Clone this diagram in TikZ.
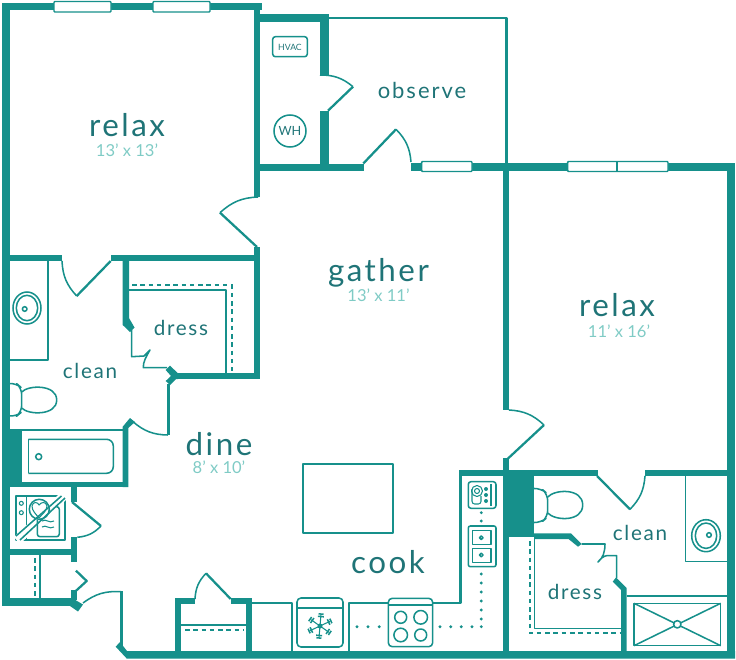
\documentclass[tikz,border=0pt]{standalone}
\usepackage{fontspec}
\setmainfont{Lato}
\definecolor{wallc}{HTML}{16908B}
\definecolor{labelc}{HTML}{1F7477}
\definecolor{dimc}{HTML}{7FCBC5}
\newcommand{\lbl}[2]{\fontsize{#1}{#1}\selectfont\addfontfeature{LetterSpace=#2}}
\tikzset{
  wallfill/.style={fill=wallc,draw=none},
  thinw/.style={draw=wallc,line width=1.7pt,line join=round},
  finew/.style={draw=wallc,line width=1.15pt,line join=round},
  hair/.style={draw=wallc,line width=0.8pt,line join=round},
  dashw/.style={draw=wallc,line width=1.7pt,dash pattern=on 3.4pt off 2.8pt},
  dotw/.style={fill=wallc,draw=none},
  win/.style={fill=white,draw=wallc,line width=1.1pt,rounded corners=0.6pt},
  bigt/.style={text=labelc,inner sep=0pt,anchor=center,font=\lbl{23.5}{8}},
  obst/.style={text=labelc,inner sep=0pt,anchor=center,font=\lbl{16.5}{9}},
  midt/.style={text=labelc,inner sep=0pt,anchor=center,font=\lbl{15.5}{8}},
  dimt/.style={text=dimc,inner sep=0pt,anchor=center,font=\lbl{12.4}{0}},
}
\begin{document}
\begin{tikzpicture}[x=0.75pt,y=-0.75pt]
\useasboundingbox (0,0) rectangle (736,660);
% ---------- heavy walls
\fill[wallfill] (2,3) rectangle (262,10.5);
\fill[wallfill] (2,3) rectangle (9.5,606);
\fill[wallfill] (254,3) rectangle (260,197);
\fill[wallfill] (254,14) rectangle (329,22);
\fill[wallfill] (320,14) rectangle (328.5,75);
\fill[wallfill] (320,111) rectangle (328.5,170);
\fill[wallfill] (254,164) rectangle (363.5,170.5);
\fill[wallfill] (411,162.5) rectangle (735,171);
\fill[wallfill] (727,162.5) rectangle (735,658);
\fill[wallfill] (503,170) rectangle (509,410);
\fill[wallfill] (503,458) rectangle (509,652);
\fill[wallfill] (503,470) rectangle (534,537);
\fill[wallfill] (459.3,470) rectangle (503,476);
\fill[wallfill] (534,470) rectangle (597.7,476);
\fill[wallfill] (645,470) rectangle (727,476);
% left block
\fill[wallfill] (10,255) rectangle (62,261);
\fill[wallfill] (110.7,255) rectangle (260,261);
\fill[wallfill] (254,247) rectangle (260,379);
\fill[wallfill] (176,373.3) rectangle (260,379);
\fill[wallfill] (122.7,261) -- (129,261) -- (129,318) -- (134.5,327.5) -- (130,332) -- (122.7,325) -- cycle;
\fill[wallfill] (165.7,370) -- (170,365.7) -- (178,373.3) -- (178,379) -- (176,379) -- (170,385) -- (165.7,381) -- (171,376) -- cycle;
\fill[wallfill] (122.7,426.7) -- (130,418) -- (135,422) -- (128.3,428) -- (128.3,487) -- (122.7,487) -- cycle;
\fill[wallfill] (2,430) rectangle (21.7,487);
\fill[wallfill] (2,481.7) rectangle (128.3,487.3);
\fill[wallfill] (71,487) rectangle (77.3,502);
\fill[wallfill] (71,537) rectangle (77.3,562);
\fill[wallfill] (9.5,549.3) rectangle (77,555);
\fill[wallfill] (2,598) rectangle (72,606);
\fill[wallfill] (71,590) rectangle (77.3,600);
\fill[wallfill] (70,606) -- (72,598) -- (83,604.5) -- (78,611.5) -- cycle;
% bottom wall
\fill[wallfill] (120,591) rectangle (123,650);
\fill[wallfill] (115.7,646.7) -- (120,642) -- (127,651) -- (735,651) -- (735,658.5) -- (126.7,658.5) -- cycle;
% pantry
\fill[wallfill] (175,598.3) rectangle (181,652);
\fill[wallfill] (175,598.3) rectangle (195,604.3);
\fill[wallfill] (230.7,598.3) rectangle (252,604.3);
\fill[wallfill] (246,598.3) rectangle (251.7,652);
% right dress walls
\fill[wallfill] (534,533.3) -- (571,533.3) -- (581.7,544) -- (578,546.7) -- (568.5,539) -- (534,539) -- cycle;
\fill[wallfill] (612.7,581.7) -- (616,577.5) -- (626.7,588) -- (626.7,652) -- (621,652) -- (621,590) -- cycle;
% ---------- thin walls
\draw[thinw] (328,18.3) -- (506.5,18.3) -- (506.5,164);
\draw[thinw] (460.5,476) -- (460.5,603.3) -- (433,603.3);
\draw[thinw] (388,603.3) -- (349,603.3) -- (349,651);
\draw[thinw] (252,603.3) -- (292,603.3) -- (292,651);
% ---------- windows
\draw[win] (54,1.5) rectangle (111,12);
\draw[win] (153,1.5) rectangle (210,12);
\draw[win] (421.7,161.5) rectangle (472,171.5);
\draw[win] (567.7,161.5) rectangle (668,171.5);
\draw[finew] (617,161.5) -- (617,171.5);
% ---------- doors
\draw[thinw] (257,247) -- (220,212.7);
\draw[finew] (220,212.7) to[bend left=20] (258,197);
\draw[thinw] (353,86.7) -- (328,110.7);
\draw[finew] (320,75) to[bend left=20] (353,86.7);
\draw[thinw] (363.3,163.5) -- (396,129.3);
\draw[finew] (396,129.3) to[bend left=20] (411,162);
\draw[thinw] (110.7,261) -- (76.7,296);
\draw[finew] (76.7,296) to[bend left=20] (62,261);
\draw[finew] (133,421.7) to[bend right=20] (168,435);
\draw[thinw] (168.5,435) -- (168.5,384);
\draw[thinw] (72,502) -- (101,526);
\draw[finew] (101,526) to[bend left=20] (77.3,537.3);
\draw[finew] (121,591.7) to[bend right=20] (83,603);
\draw[finew] (195,599) to[bend left=20] (206,573.3);
\draw[thinw] (206,573.3) -- (230.7,599);
\draw[finew] (509,410) to[bend left=20] (544,425);
\draw[thinw] (544,425) -- (508,458.5);
\draw[thinw] (597,476) -- (630,509.3);
\draw[finew] (630,509.3) to[bend right=20] (645,476);
% bifold doors
\draw[finew] (131.7,330) -- (131.7,356.7) -- (144,356) -- (150,350) .. controls (146,357) and (143,362) .. (143.3,367.7) -- (167,367.7);
\draw[thinw] (76,570.7) -- (86.7,581) -- (75,591.7);
\draw[finew] (581.7,544) -- (605,544) .. controls (605,552) and (603,558) .. (598,562) .. controls (601,558) and (604,556) .. (606.7,555.7) -- (616.7,555.7) -- (616.7,578);
% ---------- closets
\draw[finew] (129,290) -- (226,290) -- (226,373.3);
\draw[dashw] (132,285) -- (231.7,285) -- (231.7,371);
\draw[finew] (40,555) -- (40,598);
\draw[dashw] (35.3,558) -- (35.3,597);
\draw[finew] (181,625) -- (246,625);
\draw[dashw] (185,630) -- (243,630);
\draw[finew] (534.3,539) -- (534.3,628.3) -- (621,628.3);
\draw[dashw] (530,541) -- (530,633.3) -- (620,633.3);
% ---------- left bath
\draw[finew] (10,360) -- (48,360) -- (48,261);
\draw[finew] (27,308) ellipse (14 and 16);
\draw[finew] (27,308) ellipse (10.7 and 12.7);
\draw[finew] (24.7,309) circle (2.3);
\draw[finew,rounded corners=5pt] (9.5,383.5) -- (16,383) -- (21.7,388) -- (21.7,412) -- (16,416.7) -- (9.5,416);
\draw[finew] (21.7,392) .. controls (28,385) and (56.7,384) .. (56.7,400) .. controls (56.7,416) and (28,415) .. (21.7,408);
\draw[finew] (10,430) -- (122.7,430);
\draw[finew,rounded corners=5pt] (28.3,439.3) -- (113.3,439.3) -- (113.3,473.3) -- (28.3,473.3);
\draw[finew] (28.3,439.3) -- (28.3,473.3);
\draw[finew] (38.7,456.7) circle (3);
% ---------- washer / dryer
\draw[finew] (16,496) rectangle (65,540);
\draw[finew] (26.7,496) -- (26.7,540);
\fill[white] (63.5,490) -- (70,496) -- (20,544) -- (14,537) -- cycle;
\draw[finew] (16,536) -- (61.5,496);
\draw[finew] (20,540) -- (65,498);
\draw[hair] (21.3,503.3) circle (2);
\draw[hair] (21.3,512.7) circle (2);
\draw[finew] (39.3,509.3) circle (10);
\draw[hair] (32,506) .. controls (33,501) and (38,502) .. (39,505) .. controls (41,502) and (46,501) .. (47,506) .. controls (47,511) and (42,514) .. (39,518) .. controls (36,514) and (32,511) .. (32,506);
\draw[finew,rounded corners=2pt] (37.3,520) -- (37.3,536.7) -- (59.3,536.7) -- (59.3,506.7) -- (55,506.7);
\draw[hair] (42,521) .. controls (46,518) and (49,524) .. (54,521);
\draw[hair] (42,527) .. controls (46,524) and (49,530) .. (54,527);
% ---------- island, appliances
\draw[thinw] (303.3,464) rectangle (392.7,532.7);
\draw[finew,rounded corners=3pt] (297,598) rectangle (343,647);
\draw[finew] (297,608) -- (343,608);
\draw[finew,rounded corners=3pt] (388.3,598.3) rectangle (432.7,646.7);
\draw[finew] (388.3,605) -- (432.7,605);
\draw[finew,fill=white] (400.7,617.3) circle (6);
\draw[finew,fill=white] (420.7,617.3) circle (6.8);
\draw[finew,fill=white] (400.7,635) circle (6.8);
\draw[finew,fill=white] (420.7,635) circle (6);
\fill[wallc] (320,626) circle (2.5);
\foreach \a in {25,85,145,205,265,325}{
  \begin{scope}[shift={(320,626)},rotate=\a]
    \draw[hair] (0,0) -- (11,0);
    \draw[finew] (9.5,-3) -- (9.5,3);
    \draw[finew] (12,-2.5) -- (12,2.5);
  \end{scope}
}
\draw[finew,rounded corners=2pt] (468.3,481.7) rectangle (496,508.3);
\draw[hair] (491,484) -- (491,506);
\draw[hair] (477,491) circle (5.5);
\draw[hair] (477,491) circle (2.5);
\draw[hair,rounded corners=2pt] (472,489) -- (472,504) -- (481,504) -- (481,496);
\fill[wallc] (486,489) circle (2);
\fill[wallc] (486,495) circle (2);
\fill[wallc] (486,501) circle (2);
\draw[finew,rounded corners=1.5pt] (468.3,526) rectangle (496,566.7);
\draw[finew] (472.3,530.7) rectangle (491,544.3);
\draw[finew] (472.3,548.3) rectangle (491,562.7);
\draw[finew] (481.3,537.7) circle (1.8);
\draw[finew] (481.3,555) circle (1.8);
\foreach \p in {(481.3,512.7),(481.3,521),(481.3,574),(481.3,583),(481.3,592),(481.3,601),(481.3,610),(481.3,619),(481.3,626.7),(472,626.7),(461.3,626.7),(450.7,626.7),(440,626.7),(379.3,626.7),(368,626.7),(357,626.7)}
  \fill[dotw] \p circle (1.6);
\draw[finew,rounded corners=2pt] (272.7,36.7) rectangle (307.3,56.7);
\node[text=labelc,inner sep=0pt,font=\fontsize{6.5}{7}\selectfont] (hvac) at (290,47) {HVAC};
\draw[finew] (290,131) circle (16);
\node[text=labelc,inner sep=0pt,font=\fontsize{9.5}{10}\selectfont] (wh) at (290,131) {WH};
% ---------- right bath
\draw[finew,rounded corners=5pt] (534,488.5) -- (541,488.3) -- (547.7,494) -- (547.7,517) -- (541,522.7) -- (534,522.5);
\draw[finew] (547.7,497) .. controls (555,489) and (582.7,488) .. (582.7,505) .. controls (582.7,522) and (555,521) .. (547.7,513);
\draw[finew] (685.7,476) -- (685.7,561.7) -- (727,561.7);
\draw[finew] (706,535.7) ellipse (14.3 and 16);
\draw[finew] (706,535.7) ellipse (10.7 and 12.7);
\draw[finew] (709,535) circle (2.3);
\draw[finew] (626.7,596) -- (727,596);
\draw[finew] (634,603.3) rectangle (720.7,645.7);
\draw[finew] (634,603.3) -- (720.7,645.7);
\draw[finew] (720.7,603.3) -- (634,645.7);
\draw[finew,fill=white] (677.3,624.3) circle (3.7);
% ---------- labels
\node[bigt] (relaxa) at (127,125) {relax};
\node[dimt] (relaxad) at (127,150) {13' x 13'};
\node[bigt] (gather) at (378.5,273) {gather};
\node[dimt] (gatherd) at (378.5,295) {13' x 11'};
\node[bigt] (relaxb) at (617,305) {relax};
\node[dimt] (relaxbd) at (619,331) {11' x 16'};
\node[obst] (observe) at (422,90) {observe};
\node[midt] (cleana) at (90,371) {clean};
\node[midt] (dressa) at (181,328) {dress};
\node[bigt] (dine) at (219,444) {dine};
\node[dimt] (dined) at (219,467) {8' x 10'};
\node[bigt] (cook) at (388,562) {cook};
\node[midt] (cleanb) at (640,533) {clean};
\node[midt] (dressb) at (575,592) {dress};
\end{tikzpicture}
\end{document}
